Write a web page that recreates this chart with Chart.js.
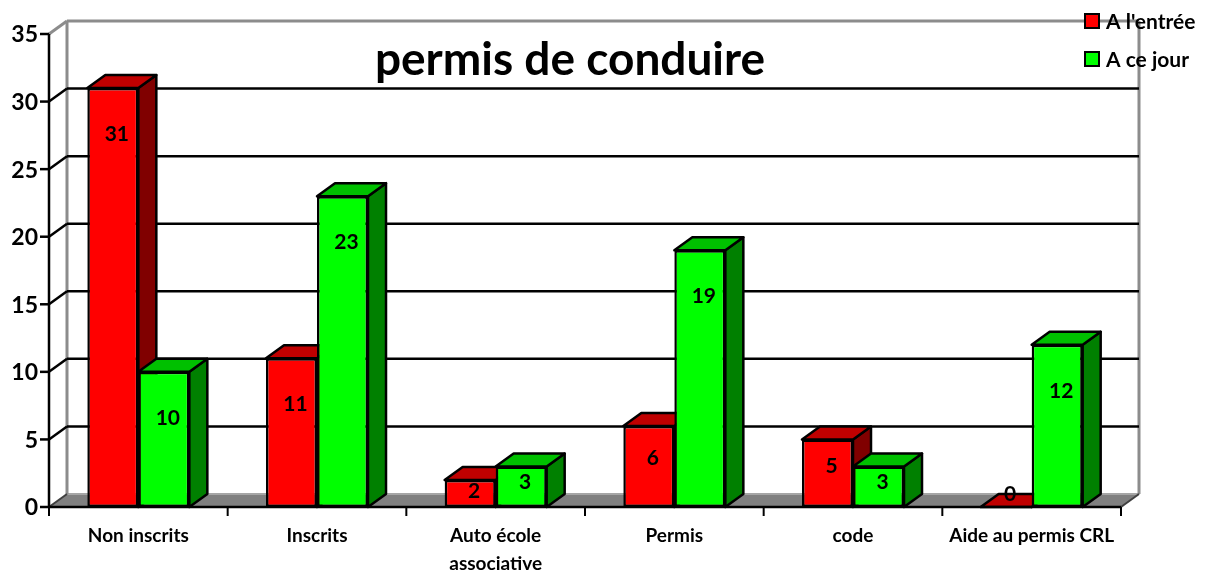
<!DOCTYPE html>
<html lang="fr">
<head>
    <meta charset="UTF-8">
    <title>permis de conduire</title>
    <script src="https://cdn.jsdelivr.net/npm/chart.js"></script>
    <style>
        body {
            margin: 0;
            padding: 0;
            background-color: #fff;
        }
        .chart-box {
            width: 1205px;
            height: 572px;
            position: relative;
        }
    </style>
</head>
<body>
    <div class="chart-box">
        <canvas id="chart"></canvas>
    </div>

    <script>
        // data
        const categories = ['Non inscrits', 'Inscrits', ['Auto école', 'associative'], 'Permis', 'code', 'Aide au permis CRL'];
        const entreeValues = [31, 11, 2, 6, 5, 0];
        const jourValues = [10, 23, 3, 19, 3, 12];
        const seriesNames = ["A l'entrée", 'A ce jour'];
        const yTicks = [0, 5, 10, 15, 20, 25, 30, 35];
        const chartTitle = 'permis de conduire';

        const FONT = 'Lato, "Open Sans", sans-serif';
        const DX = 18, DY = -13;   // depth of the 3d box
        const faceColors = [
            { front: '#ff0000', top: '#c00000', side: '#800000' },
            { front: '#00ff00', top: '#00c000', side: '#008000' }
        ];

        function poly(ctx, pts, fill, stroke) {
            ctx.beginPath();
            ctx.moveTo(pts[0][0], pts[0][1]);
            for (let i = 1; i < pts.length; i++) ctx.lineTo(pts[i][0], pts[i][1]);
            ctx.closePath();
            if (fill) { ctx.fillStyle = fill; ctx.fill(); }
            if (stroke) { ctx.strokeStyle = stroke; ctx.lineWidth = 2.5; ctx.lineJoin = 'round'; ctx.stroke(); }
        }

        function line(ctx, x1, y1, x2, y2, color, w) {
            ctx.beginPath();
            ctx.moveTo(x1, y1);
            ctx.lineTo(x2, y2);
            ctx.strokeStyle = color;
            ctx.lineWidth = w || 2;
            ctx.stroke();
        }

        const box3d = {
            id: 'box3d',
            beforeDatasetsDraw(chart) {
                const ctx = chart.ctx;
                const { left, right, top, bottom } = chart.chartArea;
                const y = chart.scales.y;
                ctx.save();
                // floor
                poly(ctx, [[left, bottom], [right, bottom], [right + DX, bottom + DY], [left + DX, bottom + DY]], '#808080');
                line(ctx, left + DX, bottom + DY, right + DX, bottom + DY, '#a6a6a6', 2);
                // walls
                line(ctx, left + DX, top + DY, left + DX, bottom + DY, '#8c8c8c', 3);
                line(ctx, left, top, left + DX, top + DY, '#8c8c8c', 3);
                line(ctx, left + DX, top + DY, right + DX, top + DY, '#8c8c8c', 3);
                line(ctx, right + DX, top + DY, right + DX, bottom + DY, '#8c8c8c', 3);
                line(ctx, right, bottom, right + DX, bottom + DY, '#404040', 2);
                line(ctx, left, bottom, left + DX, bottom + DY, '#404040', 2);
                // gridlines
                yTicks.forEach(v => {
                    if (v === 0 || v === yTicks[yTicks.length - 1]) return;
                    const py = y.getPixelForValue(v);
                    line(ctx, left + DX, py + DY, right + DX, py + DY, '#000', 2.5);
                    line(ctx, left, py, left + DX, py + DY, '#000', 2.5);
                });
                // top and side faces of the bars, left to right
                const metas = chart.data.datasets.map((d, i) => chart.getDatasetMeta(i));
                for (let i = 0; i < categories.length; i++) {
                    metas.forEach((meta, d) => {
                        const el = meta.data[i];
                        const l = el.x - el.width / 2, r = el.x + el.width / 2;
                        const t = el.y, b = el.base;
                        const c = faceColors[d];
                        poly(ctx, [[r, t], [r + DX, t + DY], [r + DX, b + DY], [r, b]], c.side, '#000');
                        poly(ctx, [[l, t], [r, t], [r + DX, t + DY], [l + DX, t + DY]], c.top, '#000');
                    });
                }
                ctx.restore();
            },
            afterDatasetsDraw(chart) {
                const ctx = chart.ctx;
                const { left, right, top, bottom } = chart.chartArea;
                const x = chart.scales.x, y = chart.scales.y;
                ctx.save();
                // axes
                line(ctx, left, top, left, bottom + 1, '#000', 2.5);
                line(ctx, left - 1, bottom, right, bottom, '#000', 2.5);
                ctx.fillStyle = '#000';
                ctx.font = 'bold 23px ' + FONT;
                ctx.textAlign = 'right';
                ctx.textBaseline = 'middle';
                yTicks.forEach(v => {
                    const py = y.getPixelForValue(v);
                    line(ctx, left - 9, py, left, py, '#000', 2.5);
                    ctx.fillText(String(v), left - 11, py + 1);
                });
                const step = (right - left) / categories.length;
                for (let i = 0; i <= categories.length; i++) {
                    const px = left + i * step;
                    line(ctx, px, bottom, px, bottom + 9, '#000', 2);
                }
                ctx.font = 'bold 19px ' + FONT;
                ctx.textAlign = 'center';
                categories.forEach((c, i) => {
                    const px = x.getPixelForValue(i);
                    const lines = Array.isArray(c) ? c : [c];
                    lines.forEach((t, k) => ctx.fillText(t, px, bottom + 29 + k * 28));
                });
                // value labels
                ctx.font = 'bold 21px ' + FONT;
                chart.data.datasets.forEach((ds, d) => {
                    chart.getDatasetMeta(d).data.forEach((el, i) => {
                        const h = el.base - el.y;
                        const off = h > 0 ? Math.min(h * 0.4, 46) : DY;
                        ctx.fillText(String(ds.data[i]), el.x + 4, el.y + off);
                    });
                });
                // title
                ctx.font = 'bold 46px ' + FONT;
                ctx.fillText(chartTitle, 570, 60);
                // legend
                ctx.font = 'bold 21px ' + FONT;
                ctx.textAlign = 'left';
                seriesNames.forEach((name, d) => {
                    const ly = 21 + d * 38;
                    ctx.fillStyle = faceColors[d].front;
                    ctx.fillRect(1085, ly - 7, 14, 14);
                    ctx.strokeStyle = '#000';
                    ctx.lineWidth = 2;
                    ctx.strokeRect(1085, ly - 7, 14, 14);
                    ctx.fillStyle = '#000';
                    ctx.fillText(name, 1106, ly + 1);
                });
                ctx.restore();
            }
        };

        new Chart(document.getElementById('chart'), {
            type: 'bar',
            data: {
                labels: categories,
                datasets: [
                    { label: seriesNames[0], data: entreeValues, backgroundColor: faceColors[0].front, borderColor: '#000', borderWidth: 2.5, borderSkipped: false, categoryPercentage: 0.571, barPercentage: 1 },
                    { label: seriesNames[1], data: jourValues, backgroundColor: faceColors[1].front, borderColor: '#000', borderWidth: 2.5, borderSkipped: false, categoryPercentage: 0.571, barPercentage: 1 }
                ]
            },
            options: {
                responsive: true,
                maintainAspectRatio: false,
                devicePixelRatio: 1,
                animation: false,
                layout: { padding: { left: 49, right: 84, top: 34, bottom: 65 } },
                scales: {
                    x: { display: false },
                    y: { display: false, min: 0, max: 35 }
                },
                plugins: { legend: { display: false }, title: { display: false }, tooltip: { enabled: false } }
            },
            plugins: [box3d]
        });
    </script>
</body>
</html>
